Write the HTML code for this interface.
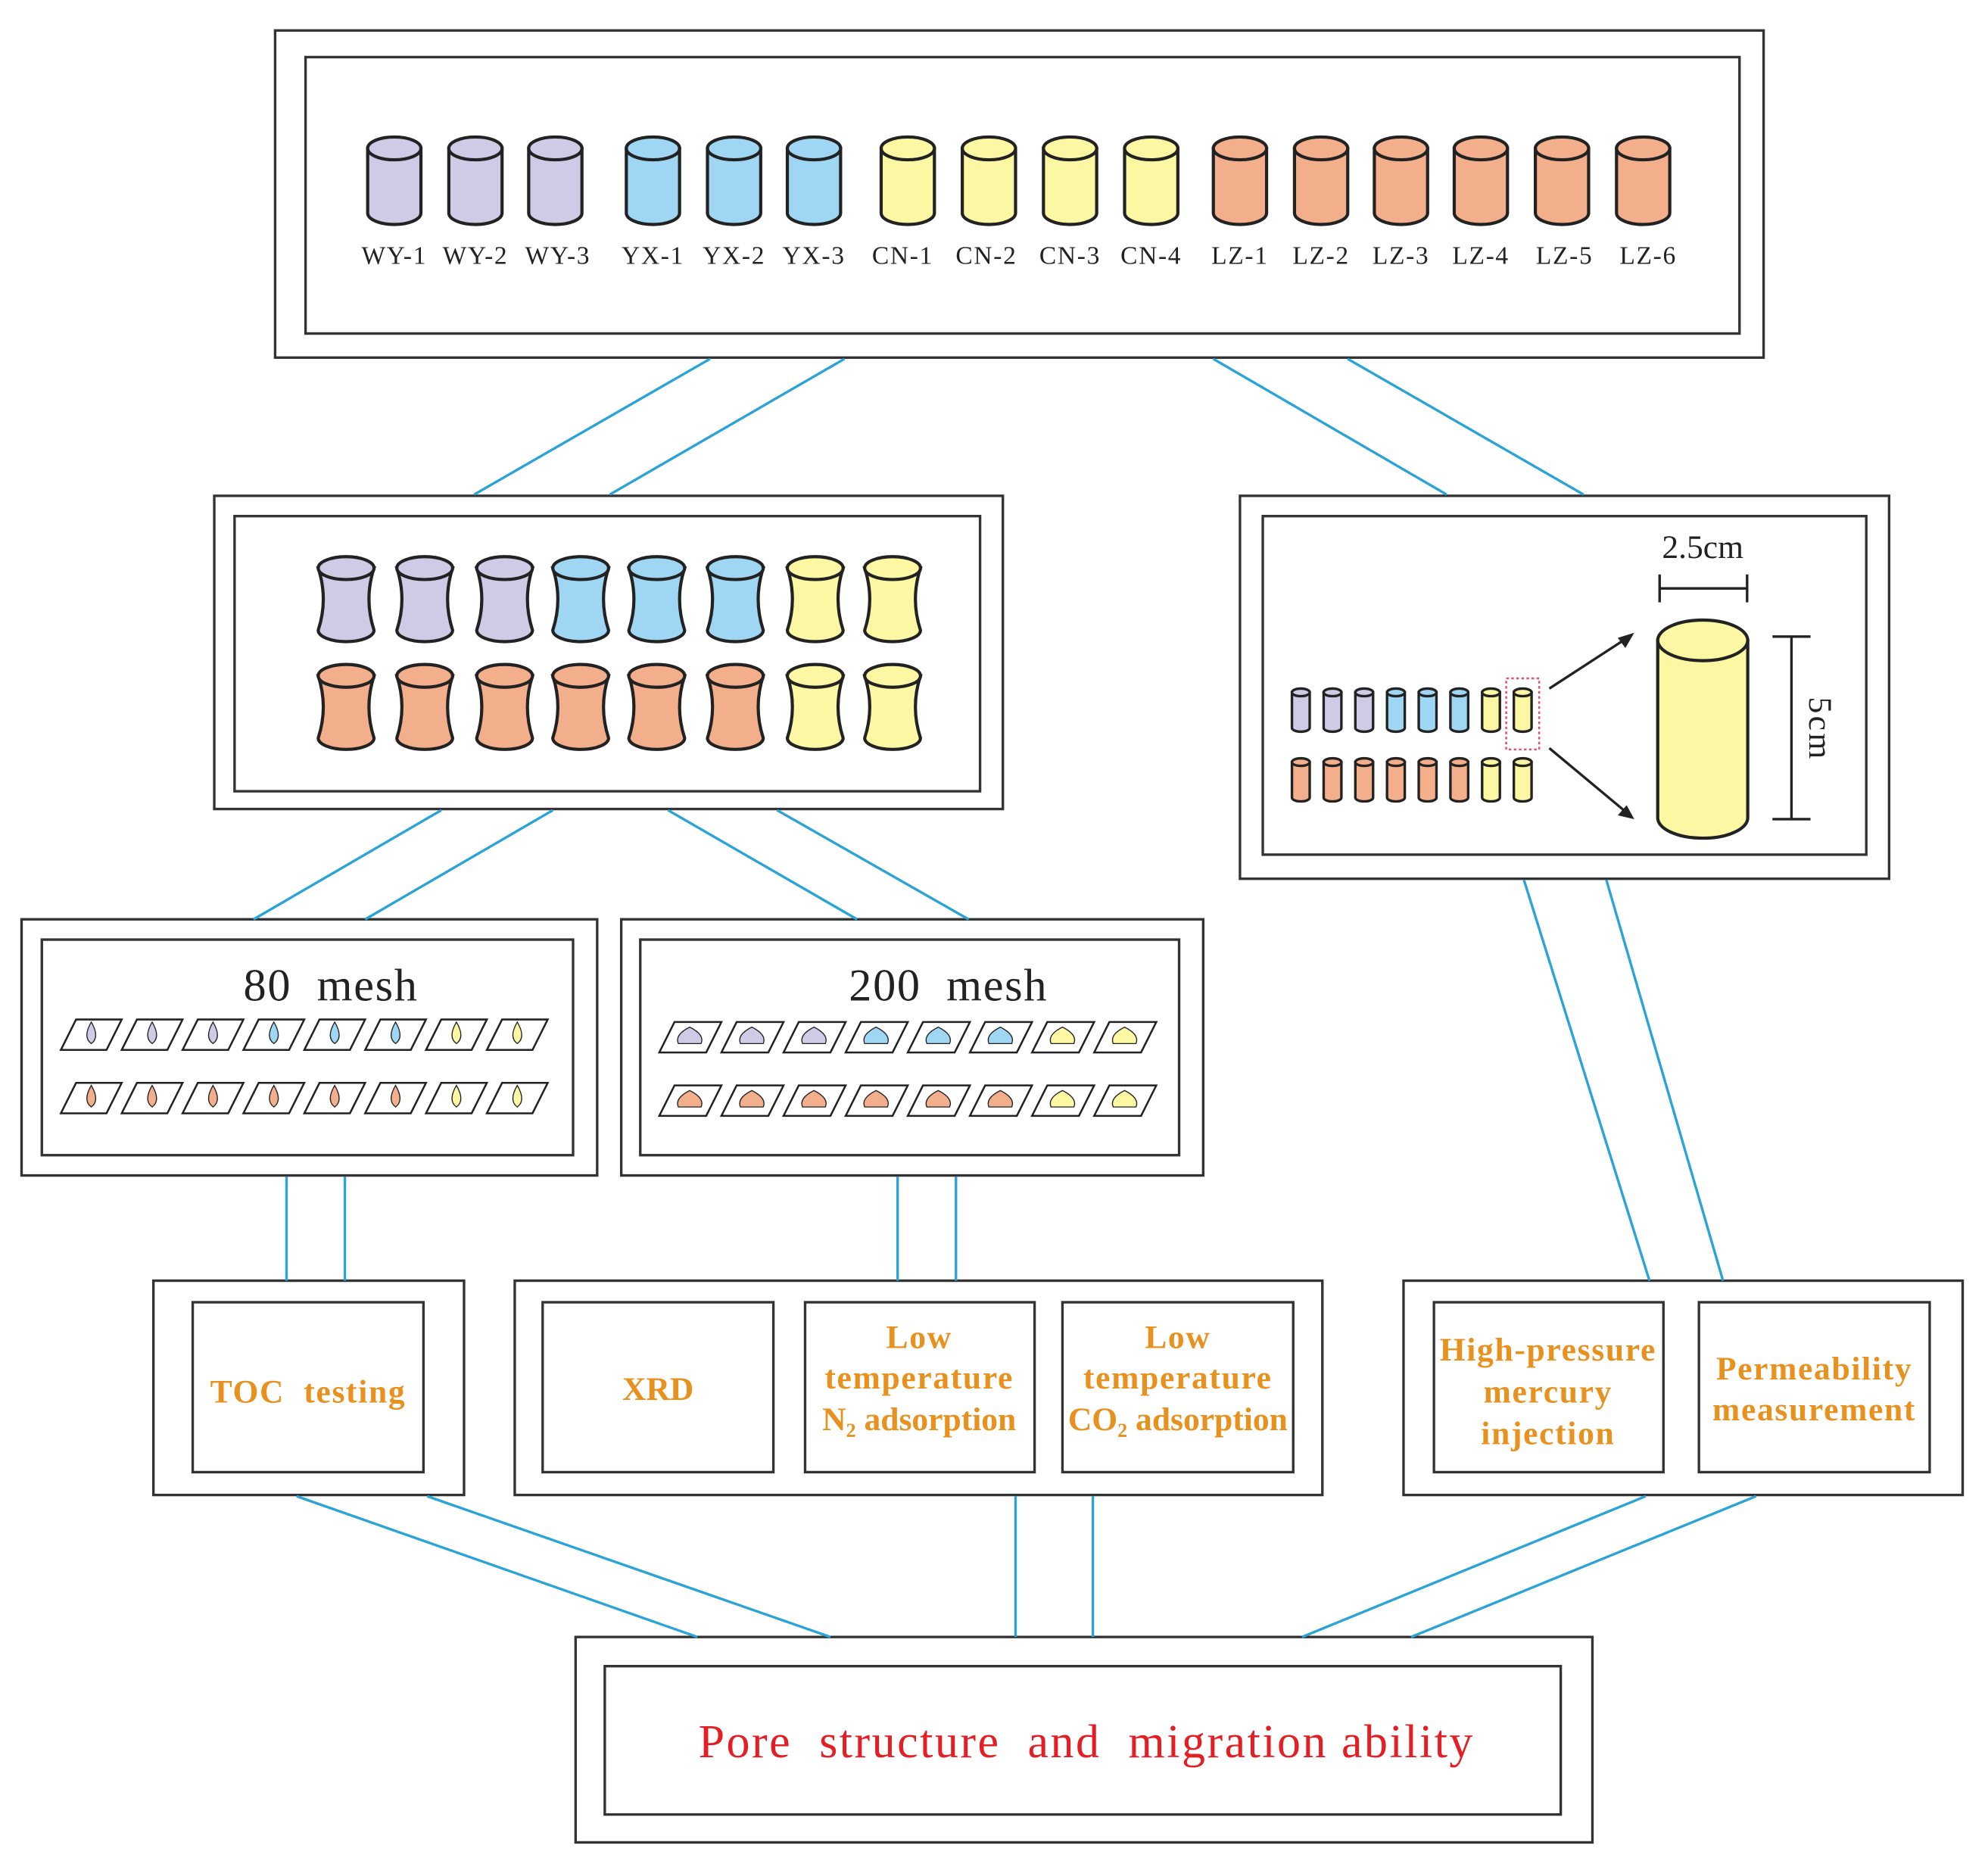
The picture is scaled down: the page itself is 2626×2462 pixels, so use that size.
<!DOCTYPE html>
<html><head><meta charset="utf-8"><style>
html,body{margin:0;padding:0;background:#fff}
svg{display:block}
text{font-family:"Liberation Serif",serif;white-space:pre}
.o{fill:#e8911e;font-weight:bold;font-size:26px;text-anchor:middle}
.L{letter-spacing:1px}
</style></head><body>
<svg width="2626" height="2462" viewBox="0 0 1568 1470" xmlns="http://www.w3.org/2000/svg">
<defs>
<g id="cy" stroke="#222" stroke-width="2.5"><path d="M-21,0 L-21,51 A21,9 0 0 0 21,51 L21,0 Z"/><ellipse cx="0" cy="0" rx="21" ry="9"/></g>
<g id="ba" stroke="#222" stroke-width="2.5"><path d="M-22,0 Q-14,24.5 -22,49 A22,9 0 0 0 22,49 Q14,24.5 22,0 Z"/><ellipse cx="0" cy="0" rx="22" ry="9"/></g>
<g id="sc" stroke="#222" stroke-width="2"><path d="M-7,0 L-7,28 A7,3 0 0 0 7,28 L7,0 Z"/><ellipse cx="0" cy="0" rx="7" ry="3"/></g>
<g id="bc" stroke="#222" stroke-width="2.5"><path d="M-35.5,0 L-35.5,140 A35.5,16 0 0 0 35.5,140 L35.5,0 Z"/><ellipse cx="0" cy="0" rx="35.5" ry="16"/></g>
<g id="d1"><polygon points="12,0 48,0 36,24 0,24" fill="#fff" stroke="#222" stroke-width="1.5"/><path d="M24,2 Q31,14 24,19 Q17,14 24,2Z" stroke="#222" stroke-width="0.8"/></g>
<g id="d2"><polygon points="12,0 49,0 37,24 0,24" fill="#fff" stroke="#222" stroke-width="1.5"/><path d="M24,4 Q36,10 33,17 L15,17 Q12,10 24,4Z" stroke="#222" stroke-width="0.8"/></g>
</defs>
<rect width="1568" height="1470" fill="#fff"/>
<g fill="none" stroke="#333" stroke-width="2">
<rect x="217" y="24" width="1174" height="258"/><rect x="241" y="45" width="1131" height="218"/>
<rect x="169" y="391" width="622" height="247"/><rect x="185" y="407" width="588" height="217"/>
<rect x="978" y="391" width="512" height="302"/><rect x="996" y="407" width="476" height="267"/>
<rect x="17" y="725" width="454" height="202"/><rect x="33" y="741" width="419" height="170"/>
<rect x="490" y="725" width="459" height="202"/><rect x="505" y="741" width="425" height="170"/>
<rect x="121" y="1010" width="245" height="169"/><rect x="152" y="1027" width="182" height="134"/>
<rect x="406" y="1010" width="637" height="169"/><rect x="428" y="1027" width="182" height="134"/><rect x="635" y="1027" width="181" height="134"/><rect x="838" y="1027" width="182" height="134"/>
<rect x="1107" y="1010" width="441" height="169"/><rect x="1131" y="1027" width="181" height="134"/><rect x="1340" y="1027" width="182" height="134"/>
<rect x="454" y="1291" width="802" height="162"/><rect x="477" y="1314" width="754" height="117"/>
</g>
<g stroke="#2aa3d6" stroke-width="2">
<line x1="560" y1="283" x2="374" y2="390"/><line x1="666" y1="283" x2="481" y2="390"/>
<line x1="957" y1="283" x2="1141" y2="390"/><line x1="1063" y1="283" x2="1249" y2="390"/>
<line x1="348" y1="639" x2="200" y2="725"/><line x1="436" y1="639" x2="288" y2="725"/>
<line x1="527" y1="639" x2="676" y2="725"/><line x1="613" y1="639" x2="764" y2="725"/>
<line x1="226" y1="928" x2="226" y2="1010"/><line x1="272" y1="928" x2="272" y2="1010"/>
<line x1="708" y1="928" x2="708" y2="1010"/><line x1="754" y1="928" x2="754" y2="1010"/>
<line x1="1202" y1="694" x2="1301" y2="1010"/><line x1="1267" y1="694" x2="1359" y2="1010"/>
<line x1="234" y1="1180" x2="550" y2="1291"/><line x1="337" y1="1180" x2="655" y2="1291"/>
<line x1="801" y1="1180" x2="801" y2="1291"/><line x1="862" y1="1180" x2="862" y2="1291"/>
<line x1="1298" y1="1180" x2="1027" y2="1291"/><line x1="1385" y1="1180" x2="1113" y2="1291"/>
</g>
<!-- top cylinders -->
<g fill="#cfcbe6"><use href="#cy" x="311" y="117"/><use href="#cy" x="375" y="117"/><use href="#cy" x="438" y="117"/></g>
<g fill="#9fd6f3"><use href="#cy" x="515" y="117"/><use href="#cy" x="579" y="117"/><use href="#cy" x="642" y="117"/></g>
<g fill="#fbf7a3"><use href="#cy" x="716" y="117"/><use href="#cy" x="780" y="117"/><use href="#cy" x="844" y="117"/><use href="#cy" x="908" y="117"/></g>
<g fill="#f3ae8b"><use href="#cy" x="978" y="117"/><use href="#cy" x="1042" y="117"/><use href="#cy" x="1105" y="117"/><use href="#cy" x="1168" y="117"/><use href="#cy" x="1232" y="117"/><use href="#cy" x="1296" y="117"/></g>
<!-- barrels -->
<g fill="#cfcbe6"><use href="#ba" x="273" y="448"/><use href="#ba" x="335" y="448"/><use href="#ba" x="398" y="448"/></g>
<g fill="#9fd6f3"><use href="#ba" x="458" y="448"/><use href="#ba" x="518" y="448"/><use href="#ba" x="580" y="448"/></g>
<g fill="#fbf7a3"><use href="#ba" x="643" y="448"/><use href="#ba" x="704" y="448"/><use href="#ba" x="643" y="533"/><use href="#ba" x="704" y="533"/></g>
<g fill="#f3ae8b"><use href="#ba" x="273" y="533"/><use href="#ba" x="335" y="533"/><use href="#ba" x="398" y="533"/><use href="#ba" x="458" y="533"/><use href="#ba" x="518" y="533"/><use href="#ba" x="580" y="533"/></g>
<!-- small cylinders -->
<g fill="#cfcbe6"><use href="#sc" x="1026" y="546"/><use href="#sc" x="1051" y="546"/><use href="#sc" x="1076" y="546"/></g>
<g fill="#9fd6f3"><use href="#sc" x="1101" y="546"/><use href="#sc" x="1126" y="546"/><use href="#sc" x="1151" y="546"/></g>
<g fill="#fbf7a3"><use href="#sc" x="1176" y="546"/><use href="#sc" x="1201" y="546"/><use href="#sc" x="1176" y="601"/><use href="#sc" x="1201" y="601"/><use href="#bc" x="1343" y="505"/></g>
<g fill="#f3ae8b"><use href="#sc" x="1026" y="601"/><use href="#sc" x="1051" y="601"/><use href="#sc" x="1076" y="601"/><use href="#sc" x="1101" y="601"/><use href="#sc" x="1126" y="601"/><use href="#sc" x="1151" y="601"/></g>
<!-- dishes 80 mesh -->
<g fill="#cfcbe6"><use href="#d1" x="48" y="804"/><use href="#d1" x="96" y="804"/><use href="#d1" x="144" y="804"/></g>
<g fill="#9fd6f3"><use href="#d1" x="192" y="804"/><use href="#d1" x="240" y="804"/><use href="#d1" x="288" y="804"/></g>
<g fill="#fbf7a3"><use href="#d1" x="336" y="804"/><use href="#d1" x="384" y="804"/><use href="#d1" x="336" y="854"/><use href="#d1" x="384" y="854"/></g>
<g fill="#f3ae8b"><use href="#d1" x="48" y="854"/><use href="#d1" x="96" y="854"/><use href="#d1" x="144" y="854"/><use href="#d1" x="192" y="854"/><use href="#d1" x="240" y="854"/><use href="#d1" x="288" y="854"/></g>
<!-- dishes 200 mesh -->
<g fill="#cfcbe6"><use href="#d2" x="520" y="806"/><use href="#d2" x="569" y="806"/><use href="#d2" x="618" y="806"/></g>
<g fill="#9fd6f3"><use href="#d2" x="667" y="806"/><use href="#d2" x="716" y="806"/><use href="#d2" x="765" y="806"/></g>
<g fill="#fbf7a3"><use href="#d2" x="814" y="806"/><use href="#d2" x="863" y="806"/><use href="#d2" x="814" y="856"/><use href="#d2" x="863" y="856"/></g>
<g fill="#f3ae8b"><use href="#d2" x="520" y="856"/><use href="#d2" x="569" y="856"/><use href="#d2" x="618" y="856"/><use href="#d2" x="667" y="856"/><use href="#d2" x="716" y="856"/><use href="#d2" x="765" y="856"/></g>
<g font-size="20" fill="#222" text-anchor="middle" class="L">
<text x="311" y="208">WY-1</text><text x="375" y="208">WY-2</text><text x="440" y="208">WY-3</text>
<text x="515" y="208">YX-1</text><text x="579" y="208">YX-2</text><text x="642" y="208">YX-3</text>
<text x="712" y="208">CN-1</text><text x="778" y="208">CN-2</text><text x="844" y="208">CN-3</text><text x="908" y="208">CN-4</text>
<text x="978" y="208">LZ-1</text><text x="1042" y="208">LZ-2</text><text x="1105" y="208">LZ-3</text><text x="1168" y="208">LZ-4</text><text x="1234" y="208">LZ-5</text><text x="1300" y="208">LZ-6</text>
</g>
<text x="261" y="789" font-size="36" text-anchor="middle" fill="#222" class="L">80  mesh</text>
<text x="748" y="789" font-size="36" text-anchor="middle" fill="#222" class="L">200  mesh</text>
<text x="1343" y="440" font-size="26" text-anchor="middle" fill="#222">2.5cm</text>
<text transform="translate(1427,575) rotate(90)" font-size="26" text-anchor="middle" fill="#222" letter-spacing="2">5cm</text>
<g stroke="#222" stroke-width="2" fill="none">
<line x1="1309" y1="464" x2="1378" y2="464"/><line x1="1309" y1="453" x2="1309" y2="475"/><line x1="1378" y1="453" x2="1378" y2="475"/>
<line x1="1413" y1="502" x2="1413" y2="646"/><line x1="1398" y1="502" x2="1428" y2="502"/><line x1="1398" y1="646" x2="1428" y2="646"/>
<line x1="1222" y1="543" x2="1282" y2="504"/><line x1="1222" y1="590" x2="1282" y2="640"/>
</g>
<polygon points="1289,499 1276,503 1282,511" fill="#222"/>
<polygon points="1289,646 1276,643 1283,635" fill="#222"/>
<rect x="1188" y="535" width="26" height="56" fill="none" stroke="#e0506a" stroke-width="1.5" stroke-dasharray="2,2"/>
<text x="243" y="1106" class="o L" font-size="28">TOC  testing</text>
<text x="519" y="1104" class="o">XRD</text>
<text x="725" y="1063" class="o L">Low</text><text x="725" y="1095" class="o L">temperature</text><text x="725" y="1128" class="o">N₂ adsorption</text>
<text x="929" y="1063" class="o L">Low</text><text x="929" y="1095" class="o L">temperature</text><text x="929" y="1128" class="o">CO₂ adsorption</text>
<text x="1221" y="1073" class="o L">High-pressure</text><text x="1221" y="1106" class="o L">mercury</text><text x="1221" y="1139" class="o L">injection</text>
<text x="1431" y="1088" class="o L">Permeability</text><text x="1431" y="1120" class="o L">measurement</text>
<text x="857" y="1386" font-size="37" text-anchor="middle" fill="#e31e24" letter-spacing="1.5">Pore  structure  and  migration ability</text>
</svg>
</body></html>
